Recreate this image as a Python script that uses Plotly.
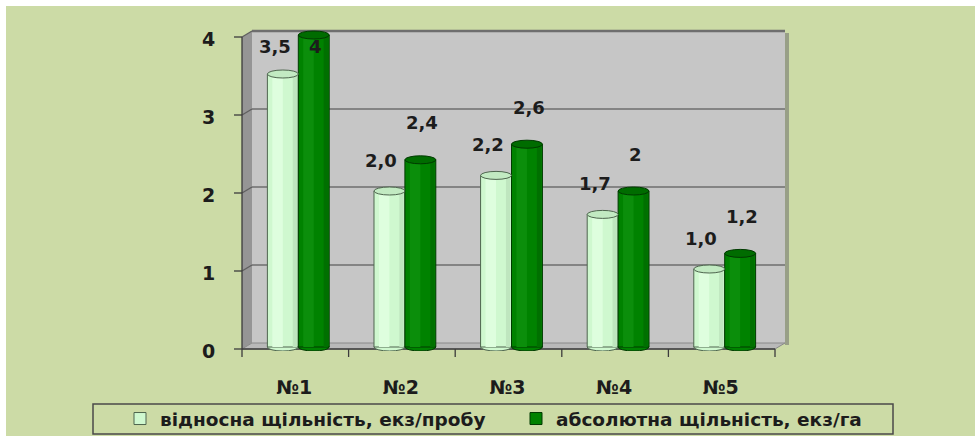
import plotly.graph_objects as go

# ---- data -------------------------------------------------------------
categories = ["№1", "№2", "№3", "№4", "№5"]
relative_density = [3.5, 2.0, 2.2, 1.7, 1.0]      # екз/пробу
absolute_density = [4, 2.4, 2.6, 2, 1.2]          # екз/га
series_names = ["відносна щільність, екз/пробу", "абсолютна щільність, екз/га"]
y_ticks = [0, 1, 2, 3, 4]

# ---- geometry (pixels) -------------------------------------------------
W, H = 979, 436
ML, MR, MT, MB = 245, 201, 29, 85
PW, PH = W - ML - MR, H - MT - MB
Y_ZERO = 347            # row of value 0 on the plane the bars stand on
PX_UNIT = 78            # pixels per unit of value
Y_RANGE = [-(H - MB - Y_ZERO) / PX_UNIT, (Y_ZERO - MT) / PX_UNIT]
CAT_PX = PW / len(categories)

# front / back planes of the pseudo-3D box, relative to the bar plane
FX0, FY0 = ML - 3, Y_ZERO + 2
FX1 = FX0 + CAT_PX * len(categories)
DX, DY = 10, -6

BAR_W = 0.29

BG = "#ccdba6"
TXT = "#1c1c1c"
FONT = "DejaVu Sans"


def px(x):
    return (x - ML) / PW


def py(y):
    return (H - MB - y) / PH


def path(points):
    return "M " + " L ".join(f"{px(x):.5f},{py(y):.5f}" for x, y in points) + " Z"


def value_label(v, decimals):
    s = f"{v:.1f}" if decimals else f"{v:g}"
    return s.replace(".", ",")


shapes = []
# page background with a thin white frame
shapes.append(dict(type="rect", xref="paper", yref="paper", layer="below",
                   x0=px(6), x1=px(975), y0=py(436), y1=py(6),
                   fillcolor=BG, line=dict(width=0)))
# back wall
shapes.append(dict(type="rect", xref="paper", yref="paper", layer="below",
                   x0=px(FX0 + DX), x1=px(FX1 + DX),
                   y0=py(FY0 + DY), y1=py(FY0 + DY - 4 * PX_UNIT),
                   fillcolor="#c6c6c6", line=dict(width=0)))
# shadow along the right edge of the back wall
shapes.append(dict(type="rect", xref="paper", yref="paper", layer="below",
                   x0=px(FX1 + DX), x1=px(FX1 + DX + 4),
                   y0=py(FY0 + DY + 2), y1=py(FY0 + DY - 4 * PX_UNIT + 2),
                   fillcolor="rgba(110,110,110,0.55)", line=dict(width=0)))
# left wall
shapes.append(dict(type="path", xref="paper", yref="paper", layer="below",
                   path=path([(FX0, FY0), (FX0, FY0 - 4 * PX_UNIT),
                              (FX0 + DX, FY0 + DY - 4 * PX_UNIT), (FX0 + DX, FY0 + DY)]),
                   fillcolor="#959595", line=dict(width=0)))
# floor
shapes.append(dict(type="path", xref="paper", yref="paper", layer="below",
                   path=path([(FX0, FY0), (FX1, FY0), (FX1 + DX, FY0 + DY), (FX0 + DX, FY0 + DY)]),
                   fillcolor="#b9b9b9", line=dict(color="#8a8a8a", width=1)))
# gridlines on back and left walls
for v in y_ticks[1:]:
    yb = FY0 + DY - v * PX_UNIT
    yf = FY0 - v * PX_UNIT
    shapes.append(dict(type="line", xref="paper", yref="paper", layer="below",
                       x0=px(FX0 + DX), x1=px(FX1 + DX), y0=py(yb), y1=py(yb),
                       line=dict(color="#6e6e6e", width=1.5 if v < 4 else 2.5)))
    shapes.append(dict(type="line", xref="paper", yref="paper", layer="below",
                       x0=px(FX0), x1=px(FX0 + DX), y0=py(yf), y1=py(yb),
                       line=dict(color="#5e5e5e", width=1.2)))
# front axis lines and tick marks
shapes.append(dict(type="line", xref="paper", yref="paper", layer="below",
                   x0=px(FX0), x1=px(FX0), y0=py(FY0), y1=py(FY0 - 4 * PX_UNIT),
                   line=dict(color="#3c3c3c", width=1.3)))
shapes.append(dict(type="line", xref="paper", yref="paper", layer="below",
                   x0=px(FX0), x1=px(FX1), y0=py(FY0), y1=py(FY0),
                   line=dict(color="#3c3c3c", width=1.3)))
for v in y_ticks:
    yf = FY0 - v * PX_UNIT
    shapes.append(dict(type="line", xref="paper", yref="paper", layer="below",
                       x0=px(FX0 - 8), x1=px(FX0), y0=py(yf), y1=py(yf),
                       line=dict(color="#3c3c3c", width=1.3)))
for k in range(len(categories) + 1):
    xf = FX0 + k * CAT_PX
    shapes.append(dict(type="line", xref="paper", yref="paper", layer="below",
                       x0=px(xf), x1=px(xf), y0=py(FY0), y1=py(FY0 + 8),
                       line=dict(color="#3c3c3c", width=1.3)))

# legend frame
shapes.append(dict(type="rect", xref="paper", yref="paper", layer="below",
                   x0=px(93), x1=px(893), y0=py(434), y1=py(404),
                   fillcolor="rgba(0,0,0,0)", line=dict(color="#4a4a4a", width=1.5)))

xs = list(range(len(categories)))

series = [
    dict(name=series_names[0], values=relative_density, offset=-BAR_W, legend="legend",
         body="#cff8cf", light="#defede", shade="#bfe6bf", cap="#c2eac2",
         edge="#4e654e", decimals=True, xshift=-8, yshift=31),
    dict(name=series_names[1], values=absolute_density, offset=0.0, legend="legend2",
         body="#008200", light="#0b8e0b", shade="#007000", cap="#006c00",
         edge="#003a00", decimals=False, xshift=2, yshift=37),
]

fig = go.Figure()

# rounded cylinder bottoms (under the bars)
for s in series:
    for i in xs:
        shapes.append(dict(type="circle", xref="x", yref="y", layer="below",
                           x0=i + s["offset"], x1=i + s["offset"] + BAR_W,
                           ysizemode="pixel", yanchor=0, y0=-4, y1=4,
                           fillcolor=s["body"], line=dict(color=s["edge"], width=1)))

for s in series:
    fig.add_trace(go.Bar(
        x=xs, y=s["values"], name=s["name"], legend=s["legend"],
        width=BAR_W, offset=s["offset"],
        marker=dict(color=s["body"], line=dict(color=s["edge"], width=1)),
        hovertemplate="%{y}<extra></extra>",
    ))
    # cylinder shading strips
    fig.add_trace(go.Bar(
        x=xs, y=s["values"], width=BAR_W * 0.34, offset=s["offset"] + BAR_W * 0.16,
        marker=dict(color=s["light"], line=dict(width=0)),
        showlegend=False, hoverinfo="skip",
    ))
    fig.add_trace(go.Bar(
        x=xs, y=s["values"], width=BAR_W * 0.14, offset=s["offset"] + BAR_W * 0.82,
        marker=dict(color=s["shade"], line=dict(width=0)),
        showlegend=False, hoverinfo="skip",
    ))

# cylinder tops
for s in series:
    for i, v in zip(xs, s["values"]):
        shapes.append(dict(type="circle", xref="x", yref="y", layer="above",
                           x0=i + s["offset"], x1=i + s["offset"] + BAR_W,
                           ysizemode="pixel", yanchor=v, y0=-4, y1=4,
                           fillcolor=s["cap"], line=dict(color=s["edge"], width=1)))

annotations = []
for s in series:
    for i, v in zip(xs, s["values"]):
        annotations.append(dict(
            x=i + s["offset"] + BAR_W / 2, y=min(v + s["yshift"] / PX_UNIT, 3.85),
            xref="x", yref="y", xshift=s["xshift"],
            text=value_label(v, s["decimals"]), showarrow=False,
            xanchor="center", yanchor="middle",
            font=dict(family=FONT, size=18, color=TXT, weight="bold"),
        ))

legend_style = dict(orientation="h", xanchor="left", y=py(419), yanchor="middle",
                    bgcolor="rgba(0,0,0,0)", borderwidth=0,
                    font=dict(family=FONT, size=18.5, color=TXT, weight="bold"))

fig.update_layout(
    width=W, height=H,
    margin=dict(l=ML, r=MR, t=MT, b=MB, pad=0, autoexpand=False),
    paper_bgcolor="white",
    plot_bgcolor="rgba(0,0,0,0)",
    barmode="overlay",
    showlegend=True,
    legend=dict(x=px(120), **legend_style),
    legend2=dict(x=px(516), **legend_style),
    xaxis=dict(range=[-0.5, len(categories) - 0.5], tickvals=xs, ticktext=categories,
               showgrid=False, zeroline=False, showline=False,
               ticks="outside", ticklen=19, tickcolor="rgba(0,0,0,0)",
               ticklabelshift=-4,
               tickfont=dict(family=FONT, size=19, color=TXT, weight="bold"),
               fixedrange=True),
    yaxis=dict(range=Y_RANGE, tickvals=y_ticks, showgrid=False, zeroline=False,
               showline=False, ticks="outside", ticklen=25, tickcolor="rgba(0,0,0,0)",
               ticklabelshift=4,
               tickfont=dict(family=FONT, size=19, color=TXT, weight="bold"),
               fixedrange=True),
    shapes=shapes,
    annotations=annotations,
)

fig.write_html("out.html")
